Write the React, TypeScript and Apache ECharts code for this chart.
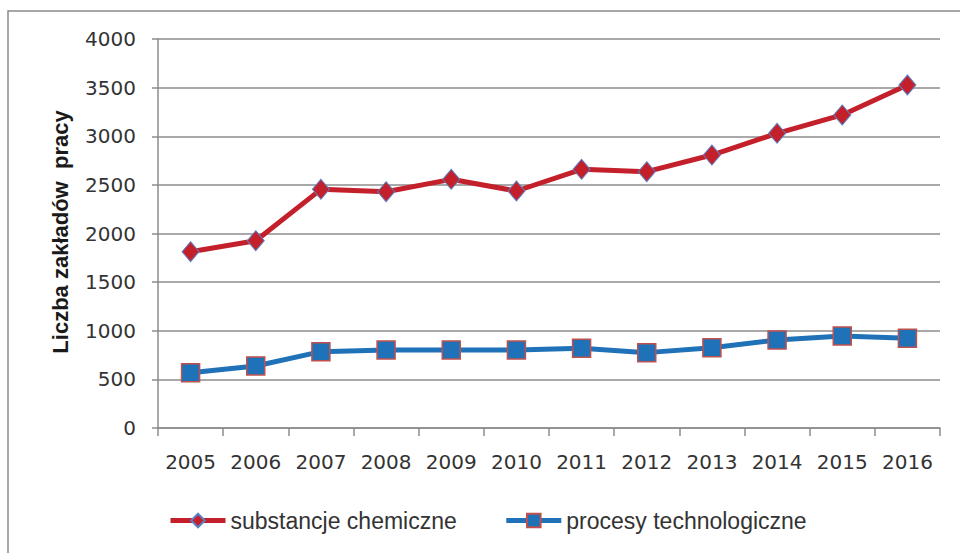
import React, { useEffect, useRef } from "react";
import * as echarts from "echarts";

const years = ["2005", "2006", "2007", "2008", "2009", "2010", "2011", "2012", "2013", "2014", "2015", "2016"];
const chemical = [1813, 1926, 2454, 2430, 2557, 2437, 2660, 2636, 2807, 3030, 3219, 3527];
const processes = [569, 638, 785, 802, 802, 802, 819, 775, 826, 905, 946, 922];
const seriesNames = ["substancje chemiczne", "procesy technologiczne"];
const yTitle = "Liczba zakładów  pracy";

const FONT = "DejaVu Sans";
const TEXT = "#333333";
const GRID = "#8c8c8c";

export default function App() {
  const ref = useRef<HTMLDivElement>(null);
  useEffect(() => {
    if (!ref.current) return;
    const chart = echarts.init(ref.current, undefined, { renderer: "svg" });
    chart.setOption({
      animation: false,
      backgroundColor: "#ffffff",
      textStyle: { fontFamily: FONT },
      grid: { left: 158, right: 20, top: 39, bottom: 125, containLabel: false },
      xAxis: {
        type: "category",
        data: years,
        boundaryGap: true,
        axisLine: { show: true, lineStyle: { color: GRID, width: 1.5 } },
        axisTick: { show: true, interval: 0, length: 8, lineStyle: { color: GRID, width: 1.5 } },
        axisLabel: { color: TEXT, fontSize: 20, fontFamily: FONT, margin: 24, interval: 0 },
      },
      yAxis: {
        type: "value",
        min: 0,
        max: 4000,
        interval: 500,
        axisLine: { show: true, lineStyle: { color: GRID, width: 1.5 } },
        axisTick: { show: true, length: 6, lineStyle: { color: GRID, width: 1.5 } },
        splitLine: { show: true, lineStyle: { color: GRID, width: 1.5 } },
        axisLabel: {
          color: TEXT,
          fontSize: 20,
          fontFamily: FONT,
          margin: 22,
          formatter: (v: number) => String(v),
        },
      },
      legend: {
        left: 163,
        top: 504,
        itemWidth: 55,
        itemHeight: 17,
        itemGap: 47,
        lineStyle: { width: 5 },
        textStyle: { color: TEXT, fontSize: 23, fontFamily: "Liberation Sans" },
        data: seriesNames,
      },
      graphic: [
        {
          type: "rect",
          silent: true,
          shape: { x: 8, y: 11, width: 970, height: 560 },
          style: { fill: "none", stroke: "#8a8a8a", lineWidth: 1.5 },
        },
        {
          type: "text",
          x: 60,
          y: 232,
          rotation: Math.PI / 2,
          style: {
            text: yTitle,
            fontFamily: "Liberation Sans",
            fontSize: 22,
            fontWeight: "bold",
            fill: "#1a1a1a",
            align: "center",
            verticalAlign: "middle",
          },
        },
      ],
      series: [
        {
          name: seriesNames[0],
          type: "line",
          data: chemical,
          symbol: "diamond",
          symbolSize: [17, 20],
          lineStyle: { color: "#c4202b", width: 5 },
          itemStyle: { color: "#c4202b", borderColor: "#5b7fc0", borderWidth: 1 },
          z: 3,
        },
        {
          name: seriesNames[1],
          type: "line",
          data: processes,
          symbol: "rect",
          symbolSize: 18,
          lineStyle: { color: "#1f72b8", width: 5 },
          itemStyle: { color: "#1f72b8", borderColor: "#c0504d", borderWidth: 1.5 },
          z: 2,
        },
      ],
    });
    return () => chart.dispose();
  }, []);
  return (
    <div
      ref={ref}
      style={{ position: "fixed", left: 0, top: 0, width: 960, height: 553 }}
    />
  );
}
